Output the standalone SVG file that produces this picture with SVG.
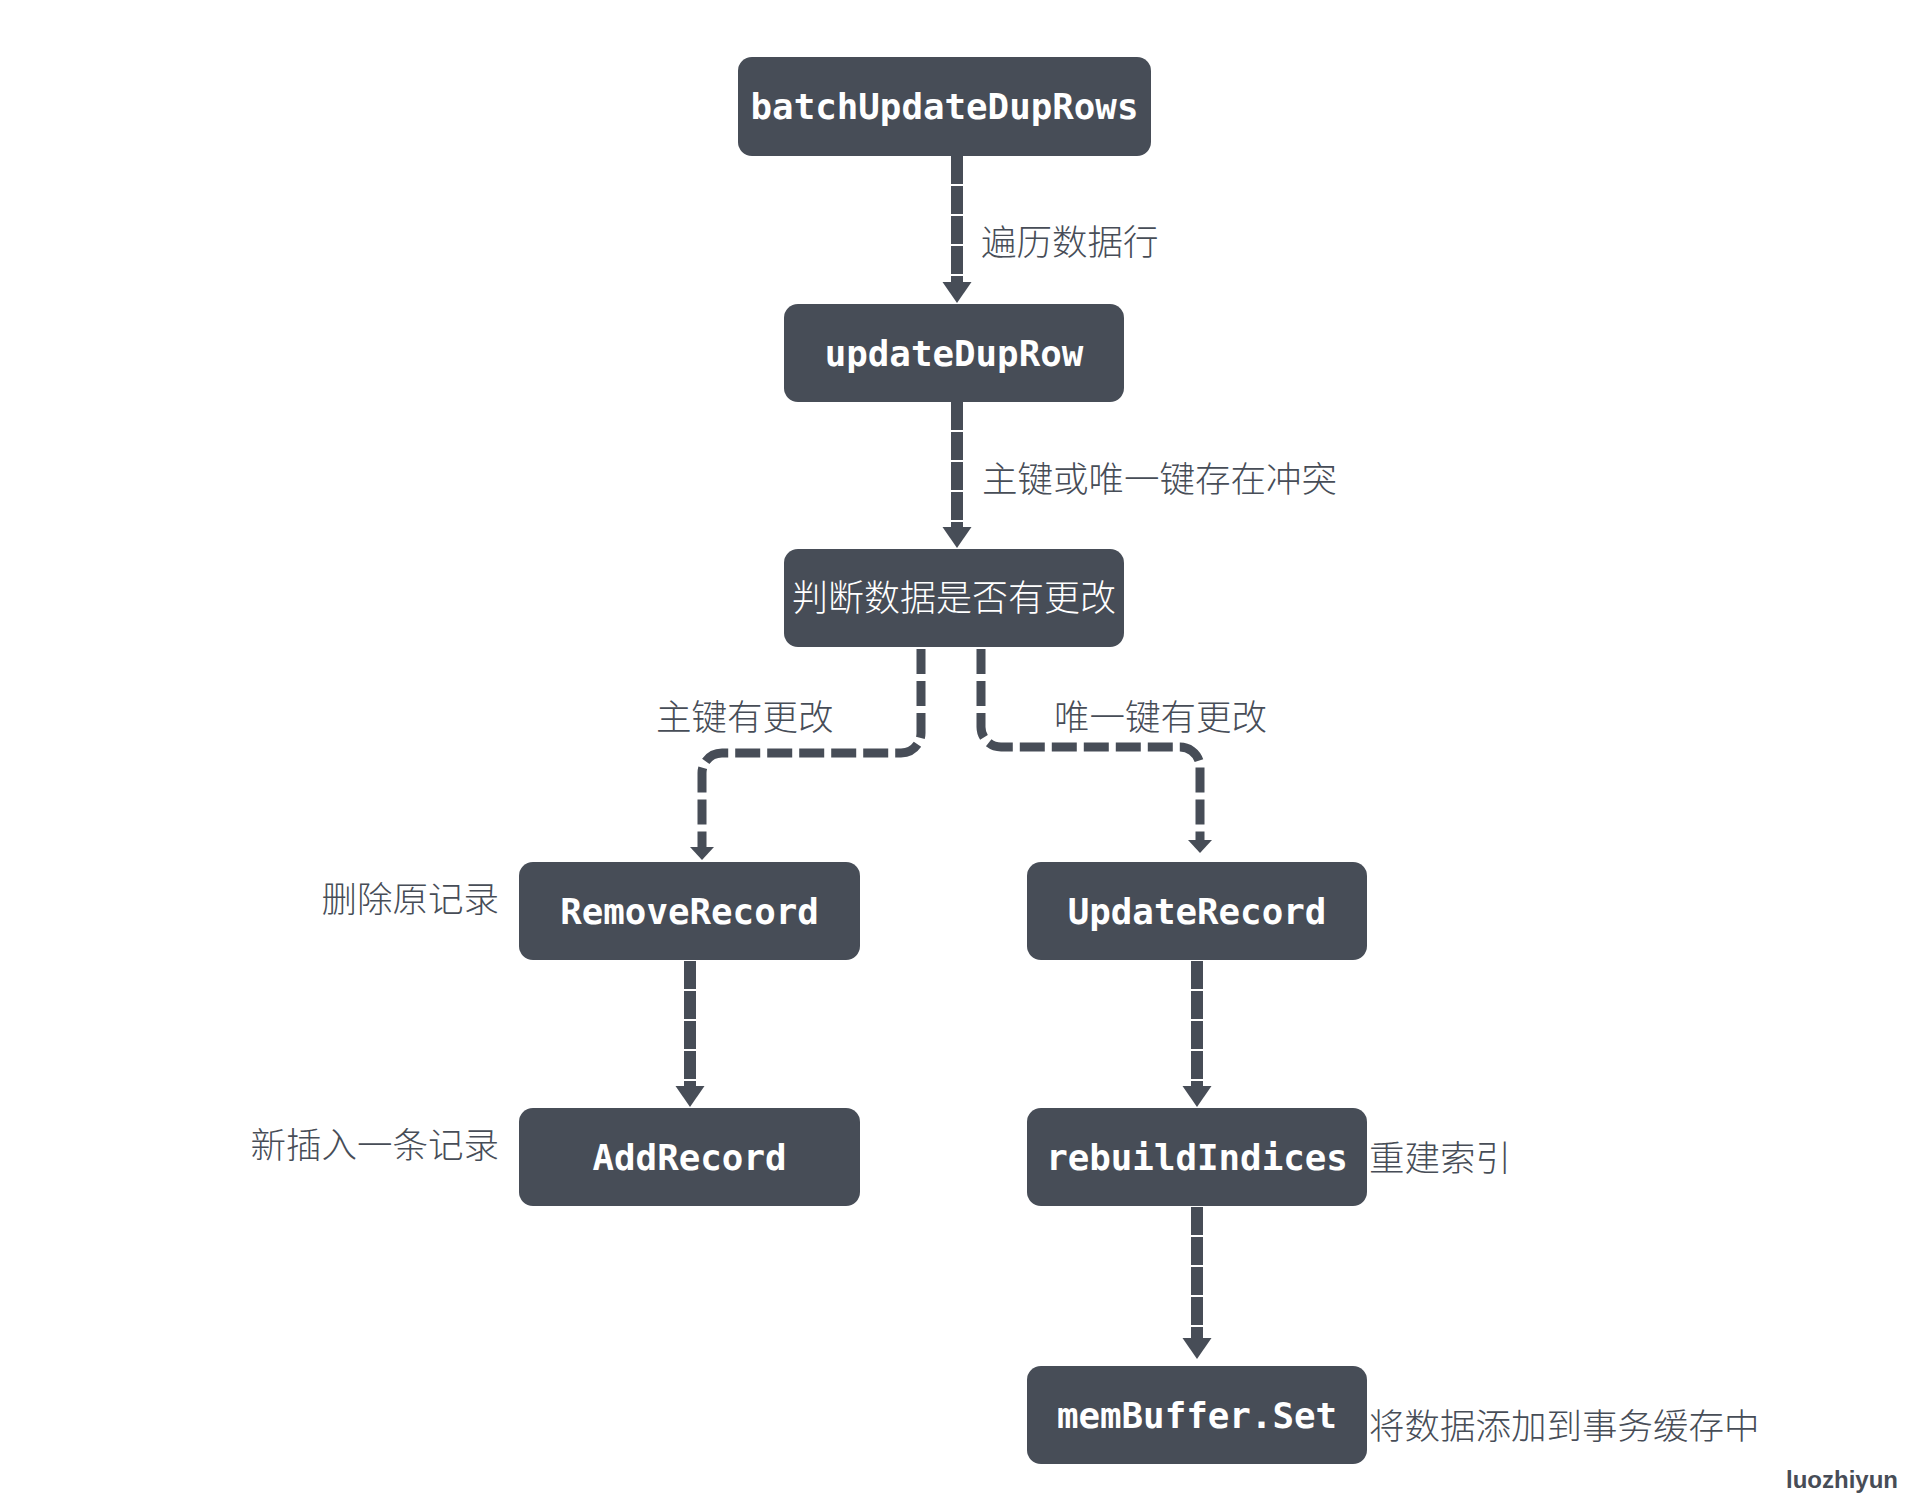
<svg xmlns="http://www.w3.org/2000/svg" width="1929" height="1509" viewBox="0 0 1929 1509">
<style>
.node rect{fill:#474d57;}
.mono{font-family:"DejaVu Sans Mono","Liberation Mono",monospace;font-weight:bold;font-size:35.8px;fill:#ffffff;text-anchor:middle;}
.cjkw{font-family:"Noto Sans CJK SC","Noto Sans",sans-serif;font-weight:300;font-size:36px;fill:#ffffff;text-anchor:middle;}
.lbl{font-family:"Noto Sans CJK SC","Noto Sans",sans-serif;font-weight:300;font-size:35.5px;fill:#474d57;}
.main{fill:none;stroke:#474d57;stroke-width:12;stroke-dasharray:28 2;}
.branch{fill:none;stroke:#474d57;stroke-width:9;stroke-dasharray:25 7;}
.head{fill:#474d57;}
</style>
<rect width="1929" height="1509" fill="#ffffff"/>
<g id="connectors">
<line class="main" x1="957" y1="156" x2="957" y2="283"/>
<polygon class="head" points="942.5,282 971.5,282 957,303"/>
<line class="main" x1="957" y1="402" x2="957" y2="528"/>
<polygon class="head" points="942.5,527 971.5,527 957,548"/>
<path class="branch" d="M921,649 V733 A20,20 0 0 1 901,753 H722 A20,20 0 0 0 702,773 V848"/>
<polygon class="head" points="690,847 714,847 702,860"/>
<path class="branch" d="M981,649 V727 A20,20 0 0 0 1001,747 H1180 A20,20 0 0 1 1200,767 V841"/>
<polygon class="head" points="1188,840 1212,840 1200,853"/>
<line class="main" x1="690" y1="961" x2="690" y2="1087"/>
<polygon class="head" points="675.5,1086 704.5,1086 690,1107"/>
<line class="main" x1="1197" y1="961" x2="1197" y2="1087"/>
<polygon class="head" points="1182.5,1086 1211.5,1086 1197,1107"/>
<line class="main" x1="1197" y1="1207" x2="1197" y2="1339"/>
<polygon class="head" points="1182.5,1338 1211.5,1338 1197,1359"/>
</g>
<g id="node-batchUpdateDupRows" class="node">
<rect x="738" y="57" width="413" height="99" rx="14"/>
<text class="mono" x="944.5" y="119">batchUpdateDupRows</text>
</g>
<g id="node-updateDupRow" class="node">
<rect x="784" y="304" width="340" height="98" rx="14"/>
<text class="mono" x="954" y="366">updateDupRow</text>
</g>
<g id="node-judge" class="node">
<rect x="784" y="549" width="340" height="98" rx="14"/>
<text class="cjkw" x="954" y="611">判断数据是否有更改</text>
</g>
<g id="node-RemoveRecord" class="node">
<rect x="519" y="862" width="341" height="98" rx="14"/>
<text class="mono" x="689.5" y="924">RemoveRecord</text>
</g>
<g id="node-UpdateRecord" class="node">
<rect x="1027" y="862" width="340" height="98" rx="14"/>
<text class="mono" x="1197" y="924">UpdateRecord</text>
</g>
<g id="node-AddRecord" class="node">
<rect x="519" y="1108" width="341" height="98" rx="14"/>
<text class="mono" x="689.5" y="1170">AddRecord</text>
</g>
<g id="node-rebuildIndices" class="node">
<rect x="1027" y="1108" width="340" height="98" rx="14"/>
<text class="mono" x="1197" y="1170">rebuildIndices</text>
</g>
<g id="node-memBufferSet" class="node">
<rect x="1027" y="1366" width="340" height="98" rx="14"/>
<text class="mono" x="1197" y="1428">memBuffer.Set</text>
</g>
<g id="labels">
<text class="lbl" x="981" y="255">遍历数据行</text>
<text class="lbl" x="982" y="492">主键或唯一键存在冲突</text>
<text class="lbl" x="656" y="730">主键有更改</text>
<text class="lbl" x="1054" y="730">唯一键有更改</text>
<text class="lbl" x="499" y="912" text-anchor="end">删除原记录</text>
<text class="lbl" x="499" y="1158" text-anchor="end">新插入一条记录</text>
<text class="lbl" x="1369" y="1171">重建索引</text>
<text class="lbl" x="1369" y="1439">将数据添加到事务缓存中</text>
<text x="1786" y="1488" style="font-family:'Liberation Sans',Arial,sans-serif;font-weight:bold;font-size:24px;fill:#474d57;">luozhiyun</text>
</g>
</svg>
